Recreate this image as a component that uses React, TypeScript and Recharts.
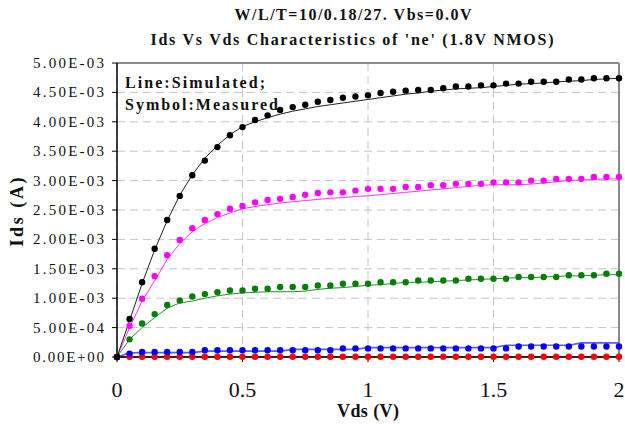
import { ComposedChart, Line, XAxis, YAxis, CartesianGrid, ReferenceLine } from 'recharts'

// Vds sweep (V)
const VDS = [
  0, 0.05, 0.1, 0.15, 0.2, 0.25, 0.3, 0.35, 0.4, 0.45, 0.5,
  0.55, 0.6, 0.65, 0.7, 0.75, 0.8, 0.85, 0.9, 0.95, 1,
  1.05, 1.1, 1.15, 1.2, 1.25, 1.3, 1.35, 1.4, 1.45, 1.5,
  1.55, 1.6, 1.65, 1.7, 1.75, 1.8, 1.85, 1.9, 1.95, 2,
]

// Ids in mA
const SIM_BLACK = [
  0, 0.62, 1.25, 1.82, 2.32, 2.75, 3.1, 3.38, 3.6, 3.78, 3.92,
  4.0, 4.07, 4.13, 4.18, 4.22, 4.26, 4.29, 4.32, 4.35, 4.38,
  4.41, 4.44, 4.47, 4.49, 4.52, 4.54, 4.56, 4.57, 4.58, 4.6,
  4.62, 4.64, 4.65, 4.66, 4.68, 4.69, 4.7, 4.72, 4.73, 4.74,
]
const MEAS_BLACK = [
  0, 0.645, 1.27, 1.84, 2.33, 2.74, 3.09, 3.34, 3.57, 3.77, 3.91,
  4.03, 4.11, 4.2, 4.25, 4.29, 4.34, 4.37, 4.41, 4.43, 4.45,
  4.49, 4.51, 4.53, 4.54, 4.54, 4.57, 4.6, 4.6, 4.62, 4.62,
  4.65, 4.65, 4.68, 4.68, 4.68, 4.72, 4.72, 4.74, 4.74, 4.74,
]
const SIM_MAGENTA = [
  0, 0.5, 0.95, 1.3, 1.66, 1.93, 2.13, 2.27, 2.37, 2.45, 2.52,
  2.56, 2.59, 2.62, 2.64, 2.66, 2.68, 2.7, 2.71, 2.73, 2.74,
  2.76, 2.78, 2.8, 2.82, 2.84, 2.86, 2.88, 2.9, 2.92, 2.93,
  2.93, 2.93, 2.94, 2.96, 2.98, 3.0, 3.01, 3.02, 3.03, 3.03,
]
const MEAS_MAGENTA = [
  0, 0.53, 0.99, 1.375, 1.73, 1.99, 2.19, 2.33, 2.43, 2.52, 2.57,
  2.63, 2.67, 2.69, 2.72, 2.76, 2.79, 2.8, 2.8, 2.83, 2.86,
  2.86, 2.86, 2.89, 2.89, 2.92, 2.92, 2.945, 2.945, 2.945, 2.97,
  2.97, 2.97, 3.0, 3.0, 3.03, 3.03, 3.03, 3.06, 3.06, 3.06,
]
const SIM_GREEN = [
  0, 0.3, 0.5, 0.67, 0.83, 0.92, 0.95, 1.0, 1.04, 1.07, 1.09,
  1.1, 1.11, 1.11, 1.11, 1.12, 1.15, 1.17, 1.18, 1.2, 1.22,
  1.23, 1.25, 1.27, 1.27, 1.28, 1.29, 1.3, 1.31, 1.32, 1.33,
  1.34, 1.35, 1.35, 1.36, 1.37, 1.38, 1.38, 1.39, 1.4, 1.4,
]
const MEAS_GREEN = [
  0, 0.3, 0.57, 0.73, 0.885, 0.96, 1.03, 1.07, 1.1, 1.13, 1.13,
  1.16, 1.16, 1.19, 1.19, 1.19, 1.215, 1.215, 1.245, 1.245, 1.245,
  1.27, 1.27, 1.27, 1.3, 1.3, 1.3, 1.3, 1.33, 1.33, 1.33,
  1.33, 1.36, 1.36, 1.36, 1.36, 1.39, 1.39, 1.39, 1.415, 1.415,
]
const SIM_BLUE = [
  0, 0.07, 0.075, 0.075, 0.075, 0.075, 0.075, 0.1, 0.1, 0.1, 0.1,
  0.1, 0.1, 0.1, 0.13, 0.13, 0.13, 0.13, 0.13, 0.13, 0.16,
  0.16, 0.16, 0.16, 0.16, 0.16, 0.16, 0.16, 0.16, 0.16, 0.16,
  0.2, 0.2, 0.2, 0.2, 0.2, 0.2, 0.24, 0.24, 0.24, 0.24,
]
const MEAS_BLUE = [
  0, 0.058, 0.086, 0.086, 0.086, 0.086, 0.086, 0.115, 0.115, 0.115, 0.115,
  0.115, 0.115, 0.115, 0.115, 0.115, 0.115, 0.115, 0.146, 0.146, 0.146,
  0.146, 0.146, 0.146, 0.146, 0.146, 0.146, 0.146, 0.146, 0.146, 0.146,
  0.146, 0.178, 0.178, 0.178, 0.178, 0.178, 0.178, 0.178, 0.178, 0.178,
]
const SIM_RED = [
  0, 0.002, 0.002, 0.002, 0.002, 0.002, 0.002, 0.002, 0.002, 0.002, 0.002,
  0.002, 0.002, 0.002, 0.002, 0.002, 0.002, 0.002, 0.002, 0.002, 0.002,
  0.002, 0.002, 0.002, 0.002, 0.002, 0.002, 0.002, 0.002, 0.002, 0.002,
  0.002, 0.002, 0.002, 0.002, 0.002, 0.002, 0.002, 0.002, 0.002, 0.002,
]
const MEAS_RED = [
  0, 0.004, 0.004, 0.004, 0.004, 0.004, 0.004, 0.004, 0.004, 0.004, 0.004,
  0.004, 0.004, 0.004, 0.004, 0.004, 0.004, 0.004, 0.004, 0.004, 0.004,
  0.004, 0.004, 0.004, 0.004, 0.004, 0.004, 0.004, 0.004, 0.004, 0.004,
  0.004, 0.004, 0.004, 0.004, 0.004, 0.004, 0.004, 0.004, 0.004, 0.004,
]

const X_TICKS = [0, 0.5, 1, 1.5, 2]
const X_TICK_LABELS = ['0', '0.5', '1', '1.5', '2']
const Y_TICKS = [0, 0.0005, 0.001, 0.0015, 0.002, 0.0025, 0.003, 0.0035, 0.004, 0.0045, 0.005]
const Y_TICK_LABELS = [
  '0.00E+00', '5.00E-04', '1.00E-03', '1.50E-03', '2.00E-03', '2.50E-03',
  '3.00E-03', '3.50E-03', '4.00E-03', '4.50E-03', '5.00E-03',
]

const SERIES = [
  { key: 'red', color: '#ff0000', line: '#e00000', sim: SIM_RED, meas: MEAS_RED },
  { key: 'blue', color: '#0000ff', line: '#5a5aff', sim: SIM_BLUE, meas: MEAS_BLUE },
  { key: 'green', color: '#008000', line: '#2e8b2e', sim: SIM_GREEN, meas: MEAS_GREEN },
  { key: 'magenta', color: '#ff00ff', line: '#ff33ff', sim: SIM_MAGENTA, meas: MEAS_MAGENTA },
  { key: 'black', color: '#000000', line: '#222222', sim: SIM_BLACK, meas: MEAS_BLACK },
]

const data = VDS.map((v, i) => {
  const row: Record<string, number> = { vds: v }
  SERIES.forEach(s => {
    row[s.key + 'Sim'] = s.sim[i] / 1000
    row[s.key + 'Meas'] = s.meas[i] / 1000
  })
  return row
})

const SERIF = 'Liberation Serif'

// plot box: left edge of the y axis sits at 117px
const renderYTick = (props: any) => {
  const { y, payload } = props
  const i = Y_TICKS.findIndex(t => Math.abs(t - payload.value) < 1e-9)
  return (
    <text
      key={'yt' + i}
      x={104}
      y={y}
      dy={5}
      textAnchor="end"
      fontFamily={SERIF}
      fontSize={15}
      textLength={71}
      lengthAdjust="spacing"
      fill="#111"
    >
      {Y_TICK_LABELS[i]}
    </text>
  )
}

const renderXTick = (props: any) => {
  const { x, y, payload } = props
  const i = X_TICKS.findIndex(t => Math.abs(t - payload.value) < 1e-9)
  return (
    <text key={'xt' + i} x={x} y={y} dy="0.71em" textAnchor="middle" fontFamily={SERIF} fontSize={22} fill="#111">
      {X_TICK_LABELS[i]}
    </text>
  )
}

export default function App() {
  return (
    <div style={{ position: 'absolute', left: 0, top: 0, width: 625, height: 424, background: '#fff' }}>
      <ComposedChart width={625} height={424} data={data} margin={{ top: 63, right: 6, left: 7, bottom: 17 }}>
        <CartesianGrid stroke="#c4c4c4" strokeDasharray="8 5" />
        <XAxis
          dataKey="vds"
          type="number"
          domain={[0, 2]}
          ticks={X_TICKS}
          height={50}
          tickSize={5}
          tickMargin={19}
          axisLine={{ stroke: '#000', strokeWidth: 1.5 }}
          tickLine={{ stroke: '#000' }}
          tick={renderXTick}
        />
        <YAxis
          type="number"
          domain={[0, 0.005]}
          ticks={Y_TICKS}
          interval={0}
          width={110}
          tickSize={5}
          tickMargin={8}
          axisLine={{ stroke: '#000', strokeWidth: 1.5 }}
          tickLine={{ stroke: '#000' }}
          tick={renderYTick}
        />
        <ReferenceLine y={0.005} stroke="#8a8a8a" strokeWidth={2} />
        <ReferenceLine x={2} stroke="#8a8a8a" strokeWidth={2} />
        {SERIES.map(s => (
          <Line
            key={s.key + 'Sim'}
            type="linear"
            dataKey={s.key + 'Sim'}
            stroke={s.line}
            strokeWidth={s.key === 'blue' ? 1.6 : 1}
            dot={false}
            activeDot={false}
            isAnimationActive={false}
          />
        ))}
        {SERIES.map(s => (
          <Line
            key={s.key + 'Meas'}
            type="linear"
            dataKey={s.key + 'Meas'}
            stroke="none"
            dot={{ r: 3.2, fill: s.color, stroke: 'none' }}
            activeDot={false}
            isAnimationActive={false}
          />
        ))}
      </ComposedChart>
      <svg width={625} height={424} style={{ position: 'absolute', left: 0, top: 0, pointerEvents: 'none' }}>
        <g fontFamily={SERIF} fontWeight="bold" fill="#111">
          <text x={353} y={20} textAnchor="middle" fontSize={16} textLength={237} lengthAdjust="spacing">
            W/L/T=10/0.18/27. Vbs=0.0V
          </text>
          <text x={352} y={45} textAnchor="middle" fontSize={16} textLength={403} lengthAdjust="spacing">
            Ids Vs Vds Characteristics of 'ne' (1.8V NMOS)
          </text>
          <text x={125} y={88} fontSize={16} textLength={140} lengthAdjust="spacing">
            Line:Simulated;
          </text>
          <text x={125} y={110} fontSize={16} textLength={153} lengthAdjust="spacing">
            Symbol:Measured
          </text>
          <text x={368} y={417} textAnchor="middle" fontSize={18} textLength={62} lengthAdjust="spacing">
            Vds (V)
          </text>
          <text
            transform="translate(23, 212) rotate(-90)"
            textAnchor="middle"
            fontSize={18}
            textLength={69}
            lengthAdjust="spacing"
          >
            Ids (A)
          </text>
        </g>
      </svg>
    </div>
  )
}
